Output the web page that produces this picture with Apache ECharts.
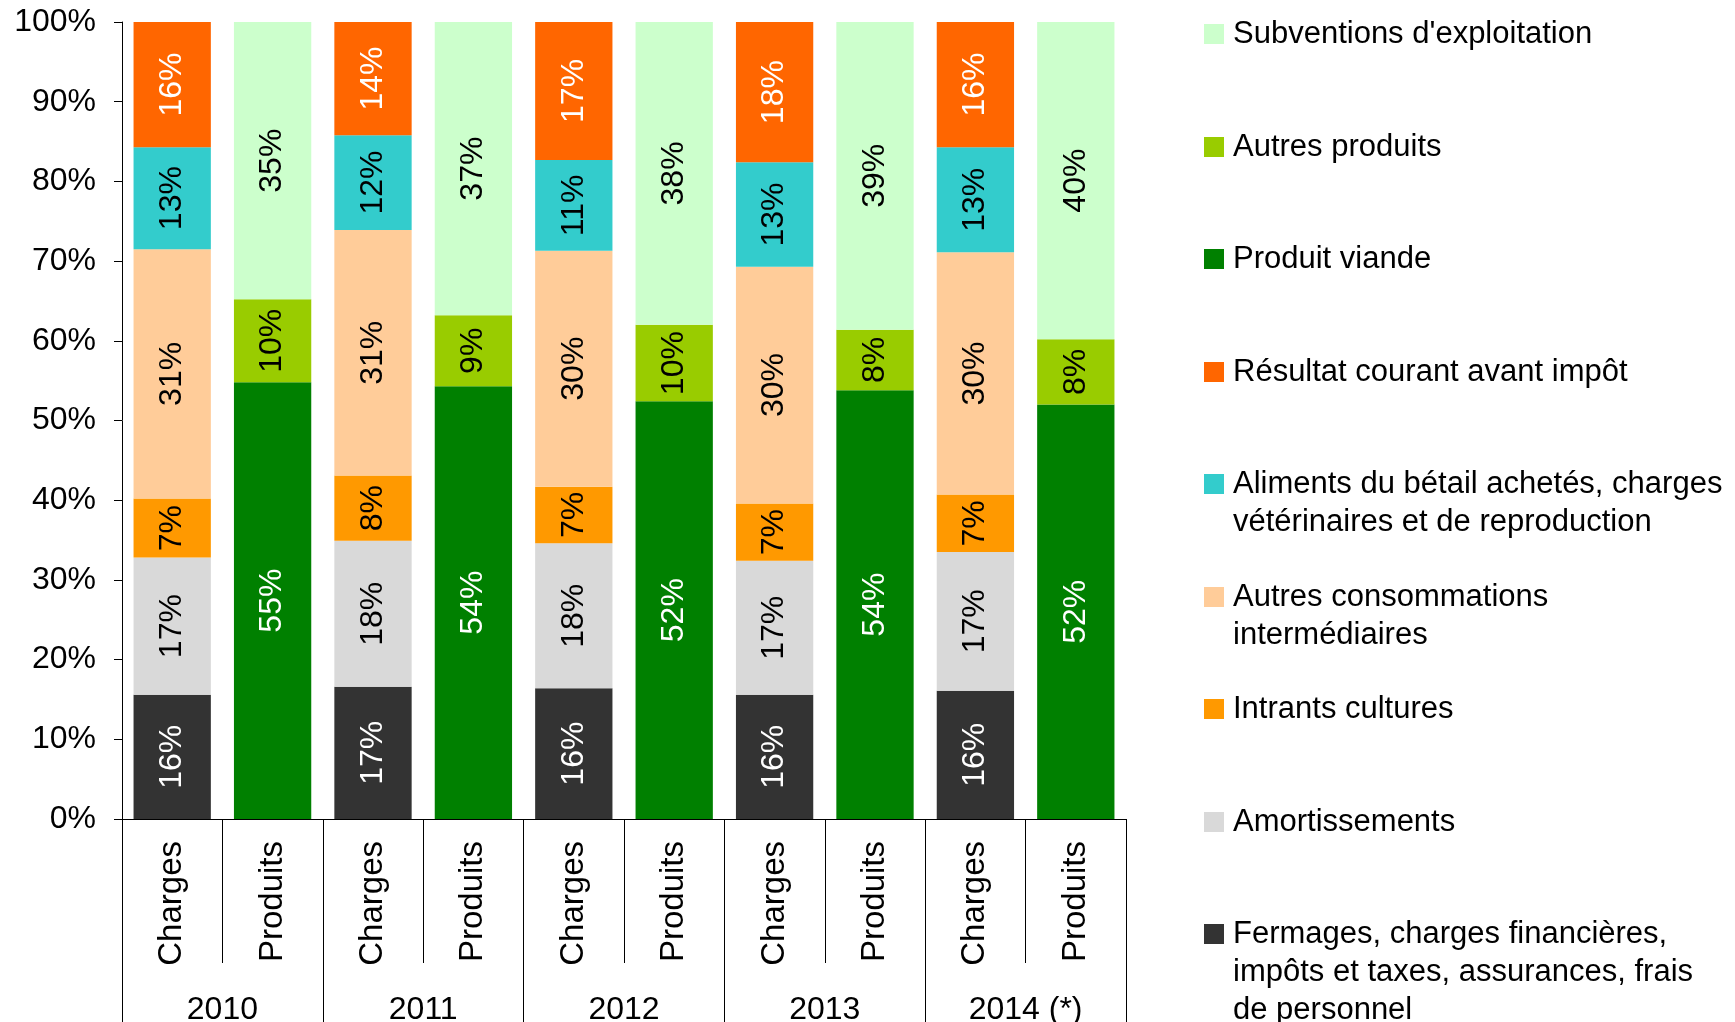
<!DOCTYPE html>
<html>
<head>
<meta charset="utf-8">
<script src="https://cdn.jsdelivr.net/npm/echarts@6/dist/echarts.min.js"></script>
<style>
html,body{margin:0;padding:0;background:#fff;}
#chart{width:1735px;height:1022px;}
</style>
</head>
<body>
<div id="chart"></div>
<script>
const years = ['2010', '2011', '2012', '2013', '2014 (*)'];
const groups = ['Charges', 'Produits'];
const yTicks = [0, 10, 20, 30, 40, 50, 60, 70, 80, 90, 100];

// Charges (bottom to top)
const fermages       = [15.6, 16.6, 16.4, 15.6, 16.1];
const amortissements = [17.2, 18.3, 18.2, 16.8, 17.4];
const intrants       = [7.4, 8.2, 7.1, 7.2, 7.2];
const autresConso    = [31.3, 30.8, 29.6, 29.7, 30.4];
const aliments       = [12.8, 11.9, 11.4, 13.1, 13.2];
const resultat       = [15.7, 14.2, 17.3, 17.6, 15.7];
// Produits (bottom to top)
const viande         = [54.8, 54.3, 52.4, 53.8, 52.0];
const autresProduits = [10.4, 8.9, 9.6, 7.6, 8.2];
const subventions    = [34.8, 36.8, 38.0, 38.6, 39.8];

const FONT = '"Liberation Sans", Arial, sans-serif';

const seriesDefs = [
  { name: 'Fermages, charges financières, impôts et taxes, assurances, frais de personnel', data: fermages, side: 0, color: '#333333', label: '#ffffff' },
  { name: 'Amortissements', data: amortissements, side: 0, color: '#d9d9d9', label: '#000000' },
  { name: 'Intrants cultures', data: intrants, side: 0, color: '#ff9900', label: '#000000' },
  { name: 'Autres consommations intermédiaires', data: autresConso, side: 0, color: '#ffcc99', label: '#000000' },
  { name: 'Aliments du bétail achetés, charges vétérinaires et de reproduction', data: aliments, side: 0, color: '#33cccc', label: '#000000' },
  { name: 'Résultat courant avant impôt', data: resultat, side: 0, color: '#ff6600', label: '#ffffff' },
  { name: 'Produit viande', data: viande, side: 1, color: '#008000', label: '#ffffff' },
  { name: 'Autres produits', data: autresProduits, side: 1, color: '#99cc00', label: '#000000' },
  { name: "Subventions d'exploitation", data: subventions, side: 1, color: '#ccffcc', label: '#000000' }
];

const categories = [];
years.forEach(() => groups.forEach(g => categories.push(g)));

function spread(arr, side) {
  const out = [];
  arr.forEach(v => { if (side === 0) out.push(v, null); else out.push(null, v); });
  return out;
}

const series = seriesDefs.map(d => ({
  name: d.name,
  type: 'bar',
  stack: 'total',
  xAxisIndex: 0,
  barWidth: '77%',
  data: spread(d.data, d.side),
  itemStyle: { color: d.color },
  label: {
    show: true,
    position: 'inside',
    rotate: 90,
    color: d.label,
    fontSize: 32,
    fontFamily: FONT,
    formatter: p => (p.value == null ? '' : Math.round(p.value) + '%')
  }
}));

// legend layout: order and wrapped text
const legendOrder = [
  ["Subventions d'exploitation", ["Subventions d'exploitation"]],
  ['Autres produits', ['Autres produits']],
  ['Produit viande', ['Produit viande']],
  ['Résultat courant avant impôt', ['Résultat courant avant impôt']],
  ['Aliments du bétail achetés, charges vétérinaires et de reproduction', ['Aliments du bétail achetés, charges', 'vétérinaires et de reproduction']],
  ['Autres consommations intermédiaires', ['Autres consommations', 'intermédiaires']],
  ['Intrants cultures', ['Intrants cultures']],
  ['Amortissements', ['Amortissements']],
  ['Fermages, charges financières, impôts et taxes, assurances, frais de personnel', ['Fermages, charges financières,', 'impôts et taxes, assurances, frais', 'de personnel']]
];
const LH = 38;
const legends = legendOrder.map((item, i) => {
  const lines = item[1];
  const n = lines.length;
  // prepend blank lines so the first real line sits at the marker's centre
  const text = new Array(n - 1).fill('').concat(lines).join('\n');
  const center = 34 + i * 112.5;
  return {
    orient: 'vertical',
    left: 1204,
    top: Math.round(center - (2 * n - 1) * LH / 2),
    padding: 0,
    itemWidth: 20,
    itemHeight: 20,
    icon: 'rect',
    selectedMode: false,
    data: [item[0]],
    formatter: () => text,
    textStyle: {
      fontSize: 31,
      fontFamily: FONT,
      color: '#000',
      lineHeight: LH,
      padding: [0, 0, 0, 4]
    }
  };
});

const option = {
  animation: false,
  backgroundColor: '#ffffff',
  textStyle: { fontFamily: FONT },
  legend: legends,
  grid: { left: 122, right: 609, top: 22, bottom: 203, containLabel: false, outerBoundsMode: 'none' },
  xAxis: [
    {
      type: 'category',
      data: categories,
      position: 'bottom',
      axisLine: { show: true, lineStyle: { color: '#000', width: 1 } },
      axisTick: { show: true, interval: 0, length: 144, lineStyle: { color: '#000', width: 1 } },
      axisLabel: { interval: 0, rotate: 90, margin: 22, fontSize: 33, fontFamily: FONT, color: '#000' }
    },
    {
      type: 'category',
      data: years,
      position: 'bottom',
      axisLine: { show: false },
      axisTick: { show: true, interval: 0, length: 210, lineStyle: { color: '#000', width: 1 } },
      axisLabel: { interval: 0, margin: 175, fontSize: 32, fontFamily: FONT, color: '#000' }
    }
  ],
  yAxis: {
    type: 'value',
    min: yTicks[0],
    max: yTicks[yTicks.length - 1],
    interval: 10,
    axisLine: { show: true, lineStyle: { color: '#000', width: 1 } },
    axisTick: { show: true, length: 8, lineStyle: { color: '#000' } },
    splitLine: { show: false },
    axisLabel: { margin: 26, fontSize: 32, fontFamily: FONT, color: '#000', formatter: '{value}%' }
  },
  series: series
};

const chart = echarts.init(document.getElementById('chart'), null, { renderer: 'canvas' });
chart.setOption(option);
</script>
</body>
</html>
